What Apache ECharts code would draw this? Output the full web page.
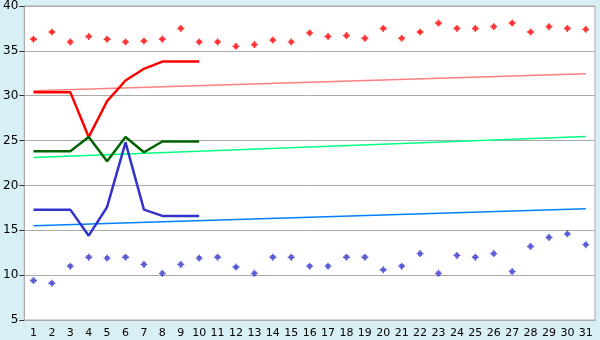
<!DOCTYPE html>
<html><head><meta charset="utf-8">
<script src="https://cdn.jsdelivr.net/npm/echarts@6/dist/echarts.min.js"></script>
<style>html,body{margin:0;padding:0;background:#d9eff6;}#c{width:600px;height:340px;}</style>
</head><body><div id="c"></div>
<script>
var days = ['1','2','3','4','5','6','7','8','9','10','11','12','13','14','15','16','17','18','19','20','21','22','23','24','25','26','27','28','29','30','31'];
var yTicks = [5, 40, 5]; // min, max, interval
var redDots = [36.3,37.1,36.0,36.6,36.3,36.0,36.1,36.3,37.5,36.0,36.0,35.5,35.7,36.2,36.0,37.0,36.6,36.7,36.4,37.5,36.4,37.1,38.1,37.5,37.5,37.7,38.1,37.1,37.7,37.5,37.4];
var blueDots = [9.4,9.1,11.0,12.0,11.9,12.0,11.2,10.2,11.2,11.9,12.0,10.9,10.2,12.0,12.0,11.0,11.0,12.0,12.0,10.6,11.0,12.4,10.2,12.2,12.0,12.4,10.4,13.2,14.2,14.6,13.4];
var redLine = [30.4,30.4,30.4,25.4,29.4,31.7,33.0,33.8,33.8,33.8];
var greenLine = [23.8,23.8,23.8,25.4,22.7,25.4,23.7,24.9,24.9,24.9];
var blueLine = [17.3,17.3,17.3,14.4,17.6,24.8,17.3,16.6,16.6,16.6];
var redTrendEnds = [30.55, 32.45];
var greenTrendEnds = [23.1, 25.45];
var blueTrendEnds = [15.5, 17.4];

function ends(e){ var a = days.map(function(){return null;}); a[0]=e[0]; a[days.length-1]=e[1]; return a; }
var mark = 'path://M2,0h1v1h1v1h1v1h-1v1h-1v1h-1v-1h-1v-1h-1v-1h1v-1h1z';

var chart = echarts.init(document.getElementById('c'));
chart.setOption({
  backgroundColor: '#d9eff6',
  animation: false,
  grid: {left: 20, right: 5, top: 5, bottom: 20, show: true, backgroundColor: '#ffffff', borderColor: '#aaaaaa', borderWidth: 1},
  xAxis: {type: 'category', data: days, boundaryGap: true,
    axisLine: {lineStyle: {color: '#aaaaaa'}},
    axisTick: {alignWithLabel: true, length: 6, lineStyle: {color: '#333333'}},
    axisLabel: {color: '#000', fontFamily: 'DejaVu Sans', fontSize: 11, margin: 8, interval: 0}},
  yAxis: {type: 'value', min: yTicks[0], max: yTicks[1], interval: yTicks[2],
    axisLine: {show: true, lineStyle: {color: '#aaaaaa'}},
    axisTick: {show: true, length: 5, lineStyle: {color: '#333333'}},
    splitLine: {lineStyle: {color: '#aaaaaa'}},
    axisLabel: {color: '#000', fontFamily: 'DejaVu Sans', fontSize: 12, margin: 6}},
  series: [
    {type: 'line', data: ends(redTrendEnds), connectNulls: true, symbol: 'none', lineStyle: {color: '#ff8080', width: 1.5}},
    {type: 'line', data: ends(greenTrendEnds), connectNulls: true, symbol: 'none', lineStyle: {color: '#00ff80', width: 1.5}},
    {type: 'line', data: ends(blueTrendEnds), connectNulls: true, symbol: 'none', lineStyle: {color: '#0080ff', width: 1.5}},
    {type: 'line', data: redLine, symbol: 'none', lineStyle: {color: '#ff0000', width: 2.5}},
    {type: 'line', data: greenLine, symbol: 'none', lineStyle: {color: '#006400', width: 2.5}},
    {type: 'line', data: blueLine, symbol: 'none', lineStyle: {color: '#3333cc', width: 2.5}},
    {type: 'scatter', data: redDots, symbol: mark, symbolSize: 7, itemStyle: {color: '#ff0000'}},
    {type: 'scatter', data: blueDots, symbol: mark, symbolSize: 7, itemStyle: {color: '#3333cc'}}
  ]
});
</script></body></html>
